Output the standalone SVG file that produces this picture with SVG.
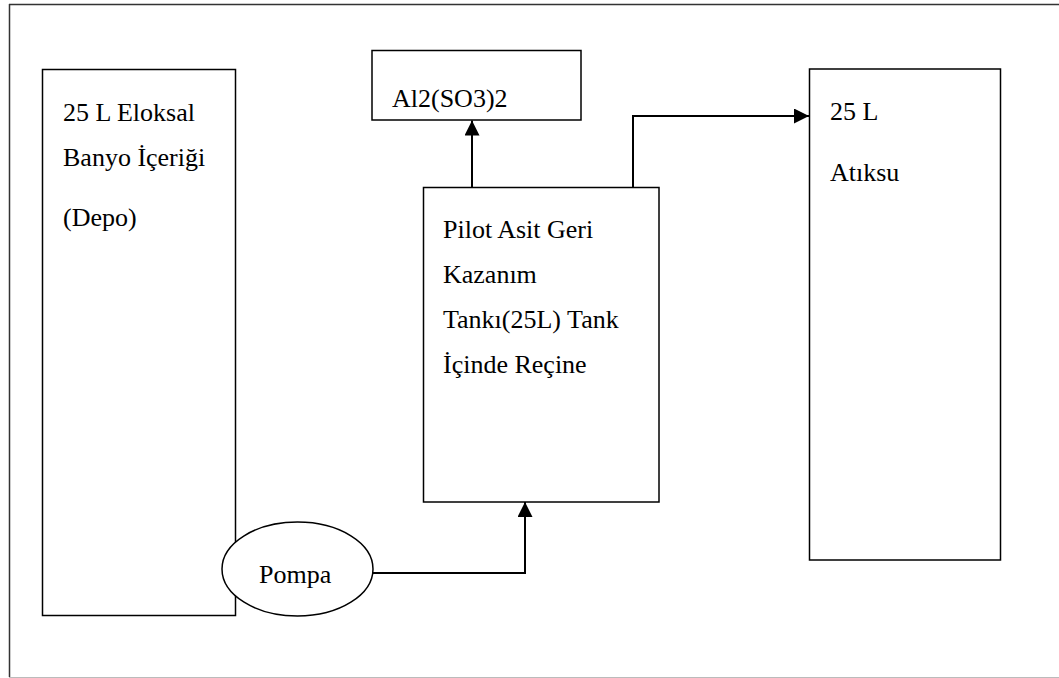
<svg xmlns="http://www.w3.org/2000/svg" width="1059" height="678" viewBox="0 0 1059 678">
<style>
.box{fill:#fff;stroke:#000;stroke-width:1.5}
.t{font-family:'Liberation Serif','Tinos','DejaVu Serif',serif;font-size:26px;fill:#000}
.c{fill:none;stroke:#000;stroke-width:2}
</style>
<defs>
<marker id="ah" viewBox="0 0 15 15" refX="15" refY="7.5" markerWidth="15" markerHeight="15" markerUnits="userSpaceOnUse" orient="auto">
<path d="M0,0 L15,7.5 L0,15 Z" fill="#000"/>
</marker>
</defs>
<rect width="1059" height="678" fill="#fff"/>
<g id="frame">
<line x1="9" y1="4.5" x2="1059" y2="4.5" stroke="#333" stroke-width="1.5"/>
<line x1="9.5" y1="4" x2="9.5" y2="677" stroke="#333" stroke-width="1.5"/>
<line x1="9" y1="677.5" x2="1059" y2="677.5" stroke="#bbb" stroke-width="1"/>
</g>
<g id="depo">
<rect class="box" x="42.5" y="69.5" width="193" height="546"/>
<text class="t" x="63" y="121">25 L Eloksal</text>
<text class="t" x="63" y="166">Banyo İçeriği</text>
<text class="t" x="63" y="226">(Depo)</text>
</g>
<g id="al2so3">
<rect class="box" x="372" y="50.5" width="209" height="69.5"/>
<text class="t" x="392" y="107">Al2(SO3)2</text>
</g>
<g id="tank">
<rect class="box" x="423.5" y="187.5" width="235.5" height="314.5"/>
<text class="t" x="443" y="238">Pilot Asit Geri</text>
<text class="t" x="443" y="283">Kazanım</text>
<text class="t" x="443" y="328">Tankı(25L) Tank</text>
<text class="t" x="443" y="373">İçinde Reçine</text>
</g>
<g id="atiksu">
<rect class="box" x="809.5" y="69" width="191" height="491"/>
<text class="t" x="830" y="120">25 L</text>
<text class="t" x="830" y="181">Atıksu</text>
</g>
<g id="pompa">
<ellipse class="box" cx="297.5" cy="569" rx="75.5" ry="47"/>
<text class="t" x="259" y="583">Pompa</text>
</g>
<g id="connectors">
<path class="c" d="M373,573 H525 V502" marker-end="url(#ah)"/>
<path class="c" d="M472,187 V120.5" marker-end="url(#ah)"/>
<path class="c" d="M633,187 V116 H809" marker-end="url(#ah)"/>
</g>
</svg>
